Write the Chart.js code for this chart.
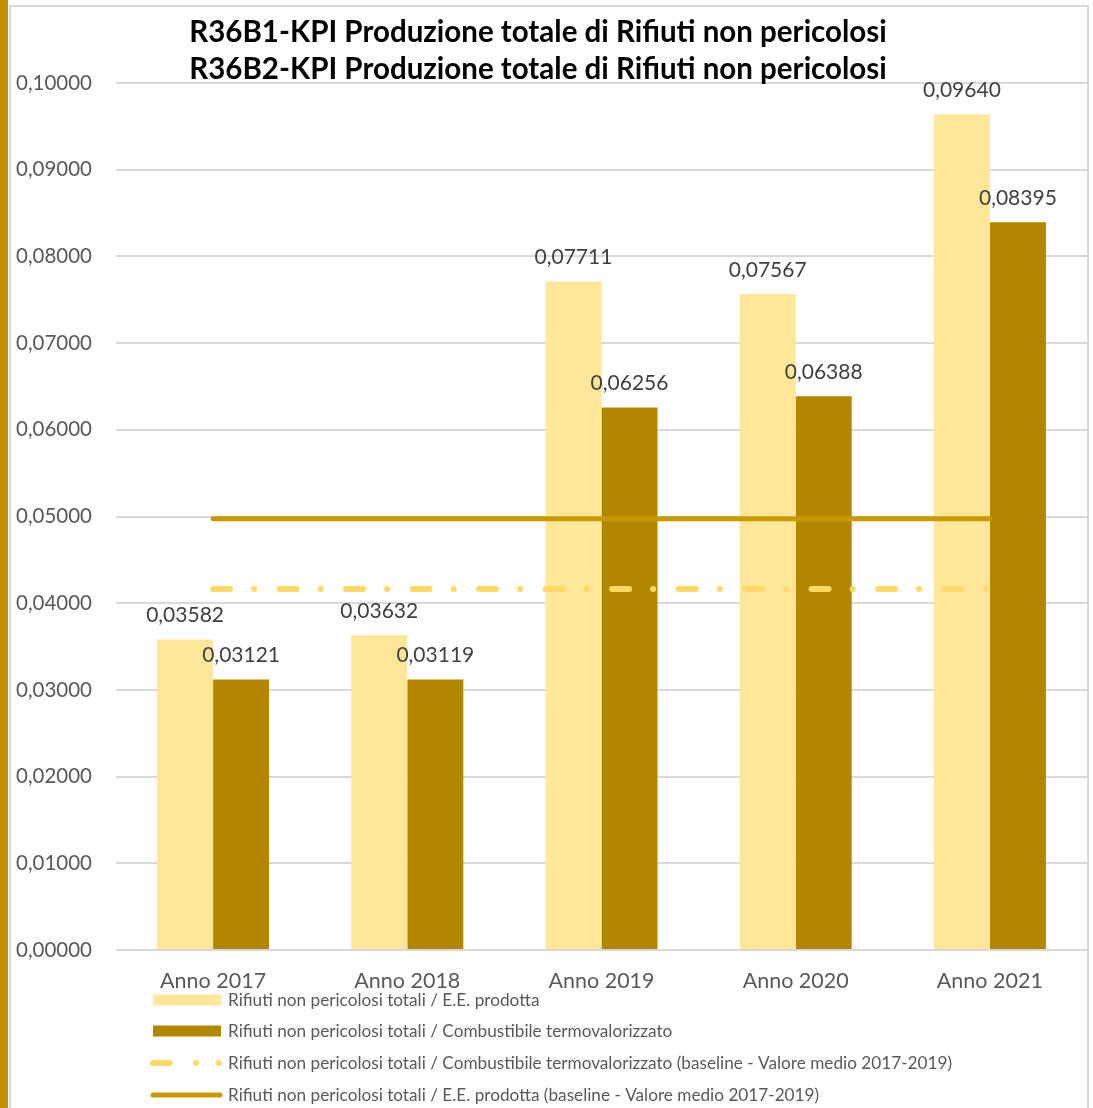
<!DOCTYPE html>
<html>
<head>
<meta charset="utf-8">
<script src="https://cdn.jsdelivr.net/npm/chart.js@4/dist/chart.umd.min.js"></script>
<style>
  body { margin: 0; background: #fff; }
  canvas { display: block; }
</style>
</head>
<body>
<canvas id="chart" width="1093" height="1108"></canvas>
<script>
const categories = ['Anno 2017', 'Anno 2018', 'Anno 2019', 'Anno 2020', 'Anno 2021'];
const perEnergy = [0.03582, 0.03632, 0.07711, 0.07567, 0.09640];
const perFuel = [0.03121, 0.03119, 0.06256, 0.06388, 0.08395];
const baselineFuel = [0.04165, 0.04165, 0.04165, 0.04165, 0.04165];
const baselineEnergy = [0.04975, 0.04975, 0.04975, 0.04975, 0.04975];
const yTicks = [0, 0.01, 0.02, 0.03, 0.04, 0.05, 0.06, 0.07, 0.08, 0.09, 0.10];
const titleLines = [
  'R36B1-KPI Produzione totale di Rifiuti non pericolosi',
  'R36B2-KPI Produzione totale di Rifiuti non pericolosi'
];

const fmt = (v) => v.toFixed(5).replace('.', ',');
const FONT = 'Lato, "Open Sans", sans-serif';

// frame, gold strip and title
const framePlugin = {
  id: 'frame',
  beforeDraw(chart) {
    const ctx = chart.ctx;
    ctx.save();
    ctx.fillStyle = '#fff';
    ctx.fillRect(0, 0, chart.width, chart.height);
    ctx.fillStyle = '#bf9000';
    ctx.fillRect(0, 0, 8, chart.height);
    ctx.strokeStyle = '#d9d9d9';
    ctx.lineWidth = 2;
    ctx.strokeRect(10, 6, 1078, chart.height + 10);
    ctx.restore();
  },
  afterDraw(chart) {
    const ctx = chart.ctx;
    ctx.save();
    ctx.fillStyle = '#000';
    ctx.font = `bold 29.5px ${FONT}`;
    ctx.textAlign = 'center';
    ctx.textBaseline = 'middle';
    titleLines.forEach((t, i) => ctx.fillText(t, 538, 32 + i * 37));
    ctx.restore();
  }
};

// value labels above bars
const barLabels = {
  id: 'barLabels',
  afterDatasetsDraw(chart) {
    const ctx = chart.ctx;
    ctx.save();
    ctx.fillStyle = '#404040';
    ctx.font = `21px ${FONT}`;
    ctx.textAlign = 'center';
    ctx.textBaseline = 'middle';
    [0, 1].forEach((di) => {
      const meta = chart.getDatasetMeta(di);
      meta.data.forEach((bar, i) => {
        ctx.fillText(fmt(chart.data.datasets[di].data[i]), bar.x, bar.y - 24);
      });
    });
    ctx.restore();
  }
};

// legend in a single column below the axis
const columnLegend = {
  id: 'columnLegend',
  afterDraw(chart) {
    const ctx = chart.ctx;
    const x0 = 153, x1 = 221, tx = 228;
    const rows = [1000, 1031, 1063, 1095];
    ctx.save();
    chart.data.datasets.forEach((ds, i) => {
      const y = rows[i];
      if (ds.type === 'bar') {
        ctx.fillStyle = ds.backgroundColor;
        ctx.fillRect(x0, y - 5.5, x1 - x0, 11);
      } else {
        ctx.strokeStyle = ds.borderColor;
        ctx.fillStyle = ds.borderColor;
        ctx.lineWidth = ds.borderWidth;
        ctx.lineCap = 'round';
        ctx.beginPath();
        if (ds.borderDash) {
          ctx.moveTo(x0, y);
          ctx.lineTo(x0 + 17, y);
          ctx.stroke();
          [196, 219].forEach((dx) => {
            ctx.beginPath();
            ctx.arc(dx, y, ds.borderWidth / 2, 0, Math.PI * 2);
            ctx.fill();
          });
        } else {
          ctx.moveTo(x0, y);
          ctx.lineTo(x1 - 1, y);
          ctx.stroke();
        }
      }
      ctx.fillStyle = '#595959';
      ctx.font = `17.2px ${FONT}`;
      ctx.textAlign = 'left';
      ctx.textBaseline = 'middle';
      ctx.fillText(ds.label, tx, y);
    });
    ctx.restore();
  }
};

new Chart(document.getElementById('chart'), {
  data: {
    labels: categories,
    datasets: [
      {
        type: 'bar',
        label: 'Rifiuti non pericolosi totali / E.E. prodotta',
        data: perEnergy,
        backgroundColor: '#ffe699',
        barPercentage: 1,
        categoryPercentage: 0.577,
        order: 1
      },
      {
        type: 'bar',
        label: 'Rifiuti non pericolosi totali / Combustibile termovalorizzato',
        data: perFuel,
        backgroundColor: '#b38600',
        barPercentage: 1,
        categoryPercentage: 0.577,
        order: 1
      },
      {
        type: 'line',
        label: 'Rifiuti non pericolosi totali / Combustibile termovalorizzato (baseline - Valore medio 2017-2019)',
        data: baselineFuel,
        borderColor: '#ffd966',
        borderWidth: 6,
        borderDash: [17, 24, 0.1, 25.4],
        borderCapStyle: 'round',
        pointRadius: 0,
        order: 0
      },
      {
        type: 'line',
        label: 'Rifiuti non pericolosi totali / E.E. prodotta (baseline - Valore medio 2017-2019)',
        data: baselineEnergy,
        borderColor: '#c99a00',
        borderWidth: 5,
        borderCapStyle: 'round',
        pointRadius: 0,
        order: 0
      }
    ]
  },
  options: {
    responsive: false,
    animation: false,
    layout: { padding: { left: 10, right: 6, top: 83, bottom: 88 } },
    plugins: {
      legend: { display: false },
      title: { display: false },
      tooltip: { enabled: false }
    },
    scales: {
      x: {
        afterFit: (s) => { s.height = 70; },
        grid: { display: false },
        border: { display: false },
        ticks: {
          font: { size: 21.5, family: FONT },
          color: '#595959',
          padding: 10
        }
      },
      y: {
        min: 0,
        max: 0.1,
        afterFit: (s) => { s.width = 106; },
        afterBuildTicks: (s) => { s.ticks = yTicks.map((v) => ({ value: v })); },
        grid: { color: '#d9d9d9', lineWidth: 2, drawTicks: false },
        border: { display: false },
        ticks: {
          font: { size: 20.5, family: FONT },
          color: '#595959',
          padding: 24,
          callback: (v) => fmt(v)
        }
      }
    }
  },
  plugins: [framePlugin, barLabels, columnLegend]
});
</script>
</body>
</html>
